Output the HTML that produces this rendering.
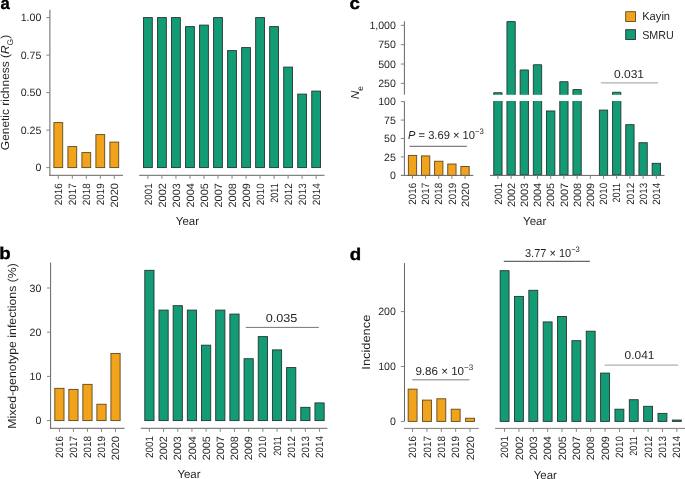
<!DOCTYPE html>
<html><head><meta charset="utf-8">
<style>
html,body{margin:0;padding:0;background:#fff;}
body{width:685px;height:479px;overflow:hidden;}
svg{display:block;font-family:"Liberation Sans",sans-serif;will-change:transform;text-rendering:geometricPrecision;}
</style></head>
<body>
<svg width="685" height="479" viewBox="0 0 685 479">
<rect x="0" y="0" width="685" height="479" fill="#fff"/>
<rect x="53.90" y="122.60" width="8.80" height="45.00" fill="#f2a31c" stroke="#5e4820" stroke-width="0.9"/>
<rect x="67.90" y="146.60" width="8.80" height="21.00" fill="#f2a31c" stroke="#5e4820" stroke-width="0.9"/>
<rect x="81.90" y="152.60" width="8.80" height="15.00" fill="#f2a31c" stroke="#5e4820" stroke-width="0.9"/>
<rect x="95.90" y="134.60" width="8.80" height="33.00" fill="#f2a31c" stroke="#5e4820" stroke-width="0.9"/>
<rect x="109.90" y="142.10" width="8.80" height="25.50" fill="#f2a31c" stroke="#5e4820" stroke-width="0.9"/>
<rect x="143.50" y="17.60" width="8.80" height="150.00" fill="#139b76" stroke="#25352f" stroke-width="0.9"/>
<rect x="157.52" y="17.60" width="8.80" height="150.00" fill="#139b76" stroke="#25352f" stroke-width="0.9"/>
<rect x="171.54" y="17.60" width="8.80" height="150.00" fill="#139b76" stroke="#25352f" stroke-width="0.9"/>
<rect x="185.56" y="26.60" width="8.80" height="141.00" fill="#139b76" stroke="#25352f" stroke-width="0.9"/>
<rect x="199.58" y="25.10" width="8.80" height="142.50" fill="#139b76" stroke="#25352f" stroke-width="0.9"/>
<rect x="213.60" y="17.60" width="8.80" height="150.00" fill="#139b76" stroke="#25352f" stroke-width="0.9"/>
<rect x="227.62" y="50.60" width="8.80" height="117.00" fill="#139b76" stroke="#25352f" stroke-width="0.9"/>
<rect x="241.64" y="47.60" width="8.80" height="120.00" fill="#139b76" stroke="#25352f" stroke-width="0.9"/>
<rect x="255.66" y="17.60" width="8.80" height="150.00" fill="#139b76" stroke="#25352f" stroke-width="0.9"/>
<rect x="269.68" y="26.60" width="8.80" height="141.00" fill="#139b76" stroke="#25352f" stroke-width="0.9"/>
<rect x="283.70" y="67.10" width="8.80" height="100.50" fill="#139b76" stroke="#25352f" stroke-width="0.9"/>
<rect x="297.72" y="94.10" width="8.80" height="73.50" fill="#139b76" stroke="#25352f" stroke-width="0.9"/>
<rect x="311.74" y="91.10" width="8.80" height="76.50" fill="#139b76" stroke="#25352f" stroke-width="0.9"/>
<line x1="49.90" y1="9.75" x2="49.90" y2="175.80" stroke="#656565" stroke-width="1.0"/>
<line x1="49.40" y1="175.30" x2="123.00" y2="175.30" stroke="#656565" stroke-width="1.0"/>
<line x1="139.20" y1="175.30" x2="324.50" y2="175.30" stroke="#656565" stroke-width="1.0"/>
<line x1="46.30" y1="167.60" x2="49.90" y2="167.60" stroke="#858585" stroke-width="1.0"/>
<text x="41.30" y="171.30" font-size="10.6" text-anchor="end" fill="#231f20" >0</text>
<line x1="46.30" y1="130.10" x2="49.90" y2="130.10" stroke="#858585" stroke-width="1.0"/>
<text x="41.30" y="133.80" font-size="10.6" text-anchor="end" fill="#231f20" >0.25</text>
<line x1="46.30" y1="92.60" x2="49.90" y2="92.60" stroke="#858585" stroke-width="1.0"/>
<text x="41.30" y="96.30" font-size="10.6" text-anchor="end" fill="#231f20" >0.50</text>
<line x1="46.30" y1="55.10" x2="49.90" y2="55.10" stroke="#858585" stroke-width="1.0"/>
<text x="41.30" y="58.80" font-size="10.6" text-anchor="end" fill="#231f20" >0.75</text>
<line x1="46.30" y1="17.60" x2="49.90" y2="17.60" stroke="#858585" stroke-width="1.0"/>
<text x="41.30" y="21.30" font-size="10.6" text-anchor="end" fill="#231f20" >1.00</text>
<line x1="58.30" y1="175.30" x2="58.30" y2="178.80" stroke="#858585" stroke-width="1.0"/>
<line x1="72.30" y1="175.30" x2="72.30" y2="178.80" stroke="#858585" stroke-width="1.0"/>
<line x1="86.30" y1="175.30" x2="86.30" y2="178.80" stroke="#858585" stroke-width="1.0"/>
<line x1="100.30" y1="175.30" x2="100.30" y2="178.80" stroke="#858585" stroke-width="1.0"/>
<line x1="114.30" y1="175.30" x2="114.30" y2="178.80" stroke="#858585" stroke-width="1.0"/>
<line x1="147.90" y1="175.30" x2="147.90" y2="178.80" stroke="#858585" stroke-width="1.0"/>
<line x1="161.92" y1="175.30" x2="161.92" y2="178.80" stroke="#858585" stroke-width="1.0"/>
<line x1="175.94" y1="175.30" x2="175.94" y2="178.80" stroke="#858585" stroke-width="1.0"/>
<line x1="189.96" y1="175.30" x2="189.96" y2="178.80" stroke="#858585" stroke-width="1.0"/>
<line x1="203.98" y1="175.30" x2="203.98" y2="178.80" stroke="#858585" stroke-width="1.0"/>
<line x1="218.00" y1="175.30" x2="218.00" y2="178.80" stroke="#858585" stroke-width="1.0"/>
<line x1="232.02" y1="175.30" x2="232.02" y2="178.80" stroke="#858585" stroke-width="1.0"/>
<line x1="246.04" y1="175.30" x2="246.04" y2="178.80" stroke="#858585" stroke-width="1.0"/>
<line x1="260.06" y1="175.30" x2="260.06" y2="178.80" stroke="#858585" stroke-width="1.0"/>
<line x1="274.08" y1="175.30" x2="274.08" y2="178.80" stroke="#858585" stroke-width="1.0"/>
<line x1="288.10" y1="175.30" x2="288.10" y2="178.80" stroke="#858585" stroke-width="1.0"/>
<line x1="302.12" y1="175.30" x2="302.12" y2="178.80" stroke="#858585" stroke-width="1.0"/>
<line x1="316.14" y1="175.30" x2="316.14" y2="178.80" stroke="#858585" stroke-width="1.0"/>
<text transform="translate(61.95,183.25) rotate(-90)" x="0" y="0" font-size="10.6" text-anchor="end" fill="#231f20" textLength="21.90" lengthAdjust="spacingAndGlyphs">2016</text>
<text transform="translate(75.95,183.25) rotate(-90)" x="0" y="0" font-size="10.6" text-anchor="end" fill="#231f20" textLength="21.90" lengthAdjust="spacingAndGlyphs">2017</text>
<text transform="translate(89.95,183.25) rotate(-90)" x="0" y="0" font-size="10.6" text-anchor="end" fill="#231f20" textLength="21.90" lengthAdjust="spacingAndGlyphs">2018</text>
<text transform="translate(103.95,183.25) rotate(-90)" x="0" y="0" font-size="10.6" text-anchor="end" fill="#231f20" textLength="21.90" lengthAdjust="spacingAndGlyphs">2019</text>
<text transform="translate(117.95,183.25) rotate(-90)" x="0" y="0" font-size="10.6" text-anchor="end" fill="#231f20" textLength="24.20" lengthAdjust="spacingAndGlyphs">2020</text>
<text transform="translate(151.55,183.25) rotate(-90)" x="0" y="0" font-size="10.6" text-anchor="end" fill="#231f20" textLength="21.90" lengthAdjust="spacingAndGlyphs">2001</text>
<text transform="translate(165.57,183.25) rotate(-90)" x="0" y="0" font-size="10.6" text-anchor="end" fill="#231f20" textLength="24.20" lengthAdjust="spacingAndGlyphs">2002</text>
<text transform="translate(179.59,183.25) rotate(-90)" x="0" y="0" font-size="10.6" text-anchor="end" fill="#231f20" textLength="24.20" lengthAdjust="spacingAndGlyphs">2003</text>
<text transform="translate(193.61,183.25) rotate(-90)" x="0" y="0" font-size="10.6" text-anchor="end" fill="#231f20" textLength="24.20" lengthAdjust="spacingAndGlyphs">2004</text>
<text transform="translate(207.63,183.25) rotate(-90)" x="0" y="0" font-size="10.6" text-anchor="end" fill="#231f20" textLength="24.20" lengthAdjust="spacingAndGlyphs">2005</text>
<text transform="translate(221.65,183.25) rotate(-90)" x="0" y="0" font-size="10.6" text-anchor="end" fill="#231f20" textLength="24.20" lengthAdjust="spacingAndGlyphs">2007</text>
<text transform="translate(235.67,183.25) rotate(-90)" x="0" y="0" font-size="10.6" text-anchor="end" fill="#231f20" textLength="24.20" lengthAdjust="spacingAndGlyphs">2008</text>
<text transform="translate(249.69,183.25) rotate(-90)" x="0" y="0" font-size="10.6" text-anchor="end" fill="#231f20" textLength="24.20" lengthAdjust="spacingAndGlyphs">2009</text>
<text transform="translate(263.71,183.25) rotate(-90)" x="0" y="0" font-size="10.6" text-anchor="end" fill="#231f20" textLength="21.90" lengthAdjust="spacingAndGlyphs">2010</text>
<text transform="translate(277.73,183.25) rotate(-90)" x="0" y="0" font-size="10.6" text-anchor="end" fill="#231f20" textLength="19.60" lengthAdjust="spacingAndGlyphs">2011</text>
<text transform="translate(291.75,183.25) rotate(-90)" x="0" y="0" font-size="10.6" text-anchor="end" fill="#231f20" textLength="21.90" lengthAdjust="spacingAndGlyphs">2012</text>
<text transform="translate(305.77,183.25) rotate(-90)" x="0" y="0" font-size="10.6" text-anchor="end" fill="#231f20" textLength="21.90" lengthAdjust="spacingAndGlyphs">2013</text>
<text transform="translate(319.79,183.25) rotate(-90)" x="0" y="0" font-size="10.6" text-anchor="end" fill="#231f20" textLength="21.90" lengthAdjust="spacingAndGlyphs">2014</text>
<text x="187.40" y="225.00" font-size="11.6" text-anchor="middle" fill="#231f20" textLength="23.20" lengthAdjust="spacingAndGlyphs" >Year</text>
<text transform="translate(8.6,92.5) rotate(-90)" x="0" y="0" font-size="11.6" text-anchor="middle" fill="#231f20" textLength="115.3" lengthAdjust="spacingAndGlyphs">Genetic richness (<tspan font-style="italic">R</tspan><tspan font-size="8.2" dy="4.3">G</tspan><tspan dy="-4.3">)</tspan></text>
<text transform="translate(0.6,9.0) scale(0.98,1)" x="0" y="0" font-size="17" font-weight="bold" fill="#000" stroke="#000" stroke-width="0.35">a</text>
<rect x="54.80" y="388.33" width="9.20" height="32.27" fill="#f2a31c" stroke="#5e4820" stroke-width="0.9"/>
<rect x="68.83" y="389.39" width="9.20" height="31.21" fill="#f2a31c" stroke="#5e4820" stroke-width="0.9"/>
<rect x="82.86" y="384.36" width="9.20" height="36.24" fill="#f2a31c" stroke="#5e4820" stroke-width="0.9"/>
<rect x="96.89" y="404.25" width="9.20" height="16.35" fill="#f2a31c" stroke="#5e4820" stroke-width="0.9"/>
<rect x="110.92" y="353.42" width="9.20" height="67.18" fill="#f2a31c" stroke="#5e4820" stroke-width="0.9"/>
<rect x="144.80" y="270.32" width="9.20" height="150.28" fill="#139b76" stroke="#25352f" stroke-width="0.9"/>
<rect x="158.98" y="310.10" width="9.20" height="110.50" fill="#139b76" stroke="#25352f" stroke-width="0.9"/>
<rect x="173.16" y="305.68" width="9.20" height="114.92" fill="#139b76" stroke="#25352f" stroke-width="0.9"/>
<rect x="187.34" y="310.10" width="9.20" height="110.50" fill="#139b76" stroke="#25352f" stroke-width="0.9"/>
<rect x="201.52" y="345.19" width="9.20" height="75.41" fill="#139b76" stroke="#25352f" stroke-width="0.9"/>
<rect x="215.70" y="310.10" width="9.20" height="110.50" fill="#139b76" stroke="#25352f" stroke-width="0.9"/>
<rect x="229.88" y="314.08" width="9.20" height="106.52" fill="#139b76" stroke="#25352f" stroke-width="0.9"/>
<rect x="244.06" y="358.72" width="9.20" height="61.88" fill="#139b76" stroke="#25352f" stroke-width="0.9"/>
<rect x="258.24" y="336.62" width="9.20" height="83.98" fill="#139b76" stroke="#25352f" stroke-width="0.9"/>
<rect x="272.42" y="349.88" width="9.20" height="70.72" fill="#139b76" stroke="#25352f" stroke-width="0.9"/>
<rect x="286.60" y="367.56" width="9.20" height="53.04" fill="#139b76" stroke="#25352f" stroke-width="0.9"/>
<rect x="300.78" y="407.34" width="9.20" height="13.26" fill="#139b76" stroke="#25352f" stroke-width="0.9"/>
<rect x="314.96" y="402.92" width="9.20" height="17.68" fill="#139b76" stroke="#25352f" stroke-width="0.9"/>
<line x1="50.60" y1="262.50" x2="50.60" y2="428.80" stroke="#656565" stroke-width="1.0"/>
<line x1="50.10" y1="428.30" x2="124.50" y2="428.30" stroke="#656565" stroke-width="1.0"/>
<line x1="140.70" y1="428.30" x2="327.40" y2="428.30" stroke="#656565" stroke-width="1.0"/>
<line x1="47.00" y1="420.60" x2="50.60" y2="420.60" stroke="#858585" stroke-width="1.0"/>
<text x="41.30" y="424.30" font-size="10.6" text-anchor="end" fill="#231f20" >0</text>
<line x1="47.00" y1="376.40" x2="50.60" y2="376.40" stroke="#858585" stroke-width="1.0"/>
<text x="41.30" y="380.10" font-size="10.6" text-anchor="end" fill="#231f20" >10</text>
<line x1="47.00" y1="332.20" x2="50.60" y2="332.20" stroke="#858585" stroke-width="1.0"/>
<text x="41.30" y="335.90" font-size="10.6" text-anchor="end" fill="#231f20" >20</text>
<line x1="47.00" y1="288.00" x2="50.60" y2="288.00" stroke="#858585" stroke-width="1.0"/>
<text x="41.30" y="291.70" font-size="10.6" text-anchor="end" fill="#231f20" >30</text>
<line x1="59.40" y1="428.30" x2="59.40" y2="431.80" stroke="#858585" stroke-width="1.0"/>
<line x1="73.43" y1="428.30" x2="73.43" y2="431.80" stroke="#858585" stroke-width="1.0"/>
<line x1="87.46" y1="428.30" x2="87.46" y2="431.80" stroke="#858585" stroke-width="1.0"/>
<line x1="101.49" y1="428.30" x2="101.49" y2="431.80" stroke="#858585" stroke-width="1.0"/>
<line x1="115.52" y1="428.30" x2="115.52" y2="431.80" stroke="#858585" stroke-width="1.0"/>
<line x1="149.40" y1="428.30" x2="149.40" y2="431.80" stroke="#858585" stroke-width="1.0"/>
<line x1="163.58" y1="428.30" x2="163.58" y2="431.80" stroke="#858585" stroke-width="1.0"/>
<line x1="177.76" y1="428.30" x2="177.76" y2="431.80" stroke="#858585" stroke-width="1.0"/>
<line x1="191.94" y1="428.30" x2="191.94" y2="431.80" stroke="#858585" stroke-width="1.0"/>
<line x1="206.12" y1="428.30" x2="206.12" y2="431.80" stroke="#858585" stroke-width="1.0"/>
<line x1="220.30" y1="428.30" x2="220.30" y2="431.80" stroke="#858585" stroke-width="1.0"/>
<line x1="234.48" y1="428.30" x2="234.48" y2="431.80" stroke="#858585" stroke-width="1.0"/>
<line x1="248.66" y1="428.30" x2="248.66" y2="431.80" stroke="#858585" stroke-width="1.0"/>
<line x1="262.84" y1="428.30" x2="262.84" y2="431.80" stroke="#858585" stroke-width="1.0"/>
<line x1="277.02" y1="428.30" x2="277.02" y2="431.80" stroke="#858585" stroke-width="1.0"/>
<line x1="291.20" y1="428.30" x2="291.20" y2="431.80" stroke="#858585" stroke-width="1.0"/>
<line x1="305.38" y1="428.30" x2="305.38" y2="431.80" stroke="#858585" stroke-width="1.0"/>
<line x1="319.56" y1="428.30" x2="319.56" y2="431.80" stroke="#858585" stroke-width="1.0"/>
<text transform="translate(63.05,436.10) rotate(-90)" x="0" y="0" font-size="10.6" text-anchor="end" fill="#231f20" textLength="21.90" lengthAdjust="spacingAndGlyphs">2016</text>
<text transform="translate(77.08,436.10) rotate(-90)" x="0" y="0" font-size="10.6" text-anchor="end" fill="#231f20" textLength="21.90" lengthAdjust="spacingAndGlyphs">2017</text>
<text transform="translate(91.11,436.10) rotate(-90)" x="0" y="0" font-size="10.6" text-anchor="end" fill="#231f20" textLength="21.90" lengthAdjust="spacingAndGlyphs">2018</text>
<text transform="translate(105.14,436.10) rotate(-90)" x="0" y="0" font-size="10.6" text-anchor="end" fill="#231f20" textLength="21.90" lengthAdjust="spacingAndGlyphs">2019</text>
<text transform="translate(119.17,436.10) rotate(-90)" x="0" y="0" font-size="10.6" text-anchor="end" fill="#231f20" textLength="24.20" lengthAdjust="spacingAndGlyphs">2020</text>
<text transform="translate(153.05,436.10) rotate(-90)" x="0" y="0" font-size="10.6" text-anchor="end" fill="#231f20" textLength="21.90" lengthAdjust="spacingAndGlyphs">2001</text>
<text transform="translate(167.23,436.10) rotate(-90)" x="0" y="0" font-size="10.6" text-anchor="end" fill="#231f20" textLength="24.20" lengthAdjust="spacingAndGlyphs">2002</text>
<text transform="translate(181.41,436.10) rotate(-90)" x="0" y="0" font-size="10.6" text-anchor="end" fill="#231f20" textLength="24.20" lengthAdjust="spacingAndGlyphs">2003</text>
<text transform="translate(195.59,436.10) rotate(-90)" x="0" y="0" font-size="10.6" text-anchor="end" fill="#231f20" textLength="24.20" lengthAdjust="spacingAndGlyphs">2004</text>
<text transform="translate(209.77,436.10) rotate(-90)" x="0" y="0" font-size="10.6" text-anchor="end" fill="#231f20" textLength="24.20" lengthAdjust="spacingAndGlyphs">2005</text>
<text transform="translate(223.95,436.10) rotate(-90)" x="0" y="0" font-size="10.6" text-anchor="end" fill="#231f20" textLength="24.20" lengthAdjust="spacingAndGlyphs">2007</text>
<text transform="translate(238.13,436.10) rotate(-90)" x="0" y="0" font-size="10.6" text-anchor="end" fill="#231f20" textLength="24.20" lengthAdjust="spacingAndGlyphs">2008</text>
<text transform="translate(252.31,436.10) rotate(-90)" x="0" y="0" font-size="10.6" text-anchor="end" fill="#231f20" textLength="24.20" lengthAdjust="spacingAndGlyphs">2009</text>
<text transform="translate(266.49,436.10) rotate(-90)" x="0" y="0" font-size="10.6" text-anchor="end" fill="#231f20" textLength="21.90" lengthAdjust="spacingAndGlyphs">2010</text>
<text transform="translate(280.67,436.10) rotate(-90)" x="0" y="0" font-size="10.6" text-anchor="end" fill="#231f20" textLength="19.60" lengthAdjust="spacingAndGlyphs">2011</text>
<text transform="translate(294.85,436.10) rotate(-90)" x="0" y="0" font-size="10.6" text-anchor="end" fill="#231f20" textLength="21.90" lengthAdjust="spacingAndGlyphs">2012</text>
<text transform="translate(309.03,436.10) rotate(-90)" x="0" y="0" font-size="10.6" text-anchor="end" fill="#231f20" textLength="21.90" lengthAdjust="spacingAndGlyphs">2013</text>
<text transform="translate(323.21,436.10) rotate(-90)" x="0" y="0" font-size="10.6" text-anchor="end" fill="#231f20" textLength="21.90" lengthAdjust="spacingAndGlyphs">2014</text>
<text x="189.00" y="478.40" font-size="11.6" text-anchor="middle" fill="#231f20" textLength="23.20" lengthAdjust="spacingAndGlyphs" >Year</text>
<text transform="translate(15.9,345.9) rotate(-90)" x="0" y="0" font-size="11.6" text-anchor="middle" fill="#231f20" textLength="165.6" lengthAdjust="spacingAndGlyphs">Mixed-genotype infections (%)</text>
<line x1="245.80" y1="327.40" x2="318.90" y2="327.40" stroke="#767676" stroke-width="1.0"/>
<text x="281.50" y="322.20" font-size="11.6" text-anchor="middle" fill="#231f20" textLength="31.70" lengthAdjust="spacingAndGlyphs" >0.035</text>
<text transform="translate(-0.8,258.6) scale(1.1,1)" x="0" y="0" font-size="17" font-weight="bold" fill="#000" stroke="#000" stroke-width="0.35">b</text>
<rect x="408.35" y="155.40" width="8.30" height="20.00" fill="#f2a31c" stroke="#5e4820" stroke-width="0.9"/>
<rect x="421.48" y="155.92" width="8.30" height="19.48" fill="#f2a31c" stroke="#5e4820" stroke-width="0.9"/>
<rect x="434.61" y="161.23" width="8.30" height="14.17" fill="#f2a31c" stroke="#5e4820" stroke-width="0.9"/>
<rect x="447.74" y="164.03" width="8.30" height="11.37" fill="#f2a31c" stroke="#5e4820" stroke-width="0.9"/>
<rect x="460.87" y="166.47" width="8.30" height="8.93" fill="#f2a31c" stroke="#5e4820" stroke-width="0.9"/>
<rect x="493.75" y="101.0" width="8.30" height="73.95" fill="#139b76"/>
<path d="M493.75,101.0 V174.95 H502.05 V101.0" fill="none" stroke="#25352f" stroke-width="0.9"/>
<rect x="493.75" y="92.71" width="8.30" height="2.09" fill="#139b76"/>
<path d="M493.75,94.8 V92.71 H502.05 V94.8" fill="none" stroke="#25352f" stroke-width="0.9"/>
<rect x="506.95" y="101.0" width="8.30" height="73.95" fill="#139b76"/>
<path d="M506.95,101.0 V174.95 H515.25 V101.0" fill="none" stroke="#25352f" stroke-width="0.9"/>
<rect x="506.95" y="21.57" width="8.30" height="73.23" fill="#139b76"/>
<path d="M506.95,94.8 V21.57 H515.25 V94.8" fill="none" stroke="#25352f" stroke-width="0.9"/>
<rect x="520.15" y="101.0" width="8.30" height="73.95" fill="#139b76"/>
<path d="M520.15,101.0 V174.95 H528.45 V101.0" fill="none" stroke="#25352f" stroke-width="0.9"/>
<rect x="520.15" y="69.98" width="8.30" height="24.82" fill="#139b76"/>
<path d="M520.15,94.8 V69.98 H528.45 V94.8" fill="none" stroke="#25352f" stroke-width="0.9"/>
<rect x="533.35" y="101.0" width="8.30" height="73.95" fill="#139b76"/>
<path d="M533.35,101.0 V174.95 H541.65 V101.0" fill="none" stroke="#25352f" stroke-width="0.9"/>
<rect x="533.35" y="64.72" width="8.30" height="30.08" fill="#139b76"/>
<path d="M533.35,94.8 V64.72 H541.65 V94.8" fill="none" stroke="#25352f" stroke-width="0.9"/>
<rect x="546.55" y="110.97" width="8.30" height="64.43" fill="#139b76" stroke="#25352f" stroke-width="0.9"/>
<rect x="559.75" y="101.0" width="8.30" height="73.95" fill="#139b76"/>
<path d="M559.75,101.0 V174.95 H568.05 V101.0" fill="none" stroke="#25352f" stroke-width="0.9"/>
<rect x="559.75" y="81.73" width="8.30" height="13.07" fill="#139b76"/>
<path d="M559.75,94.8 V81.73 H568.05 V94.8" fill="none" stroke="#25352f" stroke-width="0.9"/>
<rect x="572.95" y="101.0" width="8.30" height="73.95" fill="#139b76"/>
<path d="M572.95,101.0 V174.95 H581.25 V101.0" fill="none" stroke="#25352f" stroke-width="0.9"/>
<rect x="572.95" y="89.54" width="8.30" height="5.26" fill="#139b76"/>
<path d="M572.95,94.8 V89.54 H581.25 V94.8" fill="none" stroke="#25352f" stroke-width="0.9"/>
<rect x="599.35" y="110.09" width="8.30" height="65.31" fill="#139b76" stroke="#25352f" stroke-width="0.9"/>
<rect x="612.55" y="101.0" width="8.30" height="73.95" fill="#139b76"/>
<path d="M612.55,101.0 V174.95 H620.85 V101.0" fill="none" stroke="#25352f" stroke-width="0.9"/>
<rect x="612.55" y="92.25" width="8.30" height="2.55" fill="#139b76"/>
<path d="M612.55,94.8 V92.25 H620.85 V94.8" fill="none" stroke="#25352f" stroke-width="0.9"/>
<rect x="625.75" y="124.70" width="8.30" height="50.70" fill="#139b76" stroke="#25352f" stroke-width="0.9"/>
<rect x="638.95" y="142.71" width="8.30" height="32.69" fill="#139b76" stroke="#25352f" stroke-width="0.9"/>
<rect x="652.15" y="163.30" width="8.30" height="12.10" fill="#139b76" stroke="#25352f" stroke-width="0.9"/>
<line x1="404.40" y1="21.25" x2="404.40" y2="94.70" stroke="#656565" stroke-width="1.0"/>
<line x1="404.40" y1="101.30" x2="404.40" y2="175.40" stroke="#656565" stroke-width="1.0"/>
<line x1="401.00" y1="175.40" x2="473.30" y2="175.40" stroke="#656565" stroke-width="1.0"/>
<line x1="490.00" y1="175.40" x2="664.50" y2="175.40" stroke="#656565" stroke-width="1.0"/>
<line x1="400.80" y1="175.40" x2="404.40" y2="175.40" stroke="#858585" stroke-width="1.0"/>
<text x="395.90" y="179.10" font-size="10.6" text-anchor="end" fill="#231f20" >0</text>
<line x1="400.80" y1="156.95" x2="404.40" y2="156.95" stroke="#858585" stroke-width="1.0"/>
<text x="395.90" y="160.65" font-size="10.6" text-anchor="end" fill="#231f20" >25</text>
<line x1="400.80" y1="138.50" x2="404.40" y2="138.50" stroke="#858585" stroke-width="1.0"/>
<text x="395.90" y="142.20" font-size="10.6" text-anchor="end" fill="#231f20" >50</text>
<line x1="400.80" y1="120.05" x2="404.40" y2="120.05" stroke="#858585" stroke-width="1.0"/>
<text x="395.90" y="123.75" font-size="10.6" text-anchor="end" fill="#231f20" >75</text>
<line x1="400.80" y1="101.60" x2="404.40" y2="101.60" stroke="#858585" stroke-width="1.0"/>
<text x="395.90" y="105.30" font-size="10.6" text-anchor="end" fill="#231f20" >100</text>
<line x1="400.80" y1="83.37" x2="404.40" y2="83.37" stroke="#858585" stroke-width="1.0"/>
<text x="395.90" y="87.07" font-size="10.6" text-anchor="end" fill="#231f20" >250</text>
<line x1="400.80" y1="64.03" x2="404.40" y2="64.03" stroke="#858585" stroke-width="1.0"/>
<text x="395.90" y="67.73" font-size="10.6" text-anchor="end" fill="#231f20" >500</text>
<line x1="400.80" y1="44.70" x2="404.40" y2="44.70" stroke="#858585" stroke-width="1.0"/>
<text x="395.90" y="48.40" font-size="10.6" text-anchor="end" fill="#231f20" >750</text>
<line x1="400.80" y1="25.37" x2="404.40" y2="25.37" stroke="#858585" stroke-width="1.0"/>
<text x="395.90" y="29.07" font-size="10.6" text-anchor="end" fill="#231f20" >1,000</text>
<line x1="412.50" y1="175.40" x2="412.50" y2="178.90" stroke="#858585" stroke-width="1.0"/>
<line x1="425.63" y1="175.40" x2="425.63" y2="178.90" stroke="#858585" stroke-width="1.0"/>
<line x1="438.76" y1="175.40" x2="438.76" y2="178.90" stroke="#858585" stroke-width="1.0"/>
<line x1="451.89" y1="175.40" x2="451.89" y2="178.90" stroke="#858585" stroke-width="1.0"/>
<line x1="465.02" y1="175.40" x2="465.02" y2="178.90" stroke="#858585" stroke-width="1.0"/>
<line x1="497.90" y1="175.40" x2="497.90" y2="178.90" stroke="#858585" stroke-width="1.0"/>
<line x1="511.10" y1="175.40" x2="511.10" y2="178.90" stroke="#858585" stroke-width="1.0"/>
<line x1="524.30" y1="175.40" x2="524.30" y2="178.90" stroke="#858585" stroke-width="1.0"/>
<line x1="537.50" y1="175.40" x2="537.50" y2="178.90" stroke="#858585" stroke-width="1.0"/>
<line x1="550.70" y1="175.40" x2="550.70" y2="178.90" stroke="#858585" stroke-width="1.0"/>
<line x1="563.90" y1="175.40" x2="563.90" y2="178.90" stroke="#858585" stroke-width="1.0"/>
<line x1="577.10" y1="175.40" x2="577.10" y2="178.90" stroke="#858585" stroke-width="1.0"/>
<line x1="590.30" y1="175.40" x2="590.30" y2="178.90" stroke="#858585" stroke-width="1.0"/>
<line x1="603.50" y1="175.40" x2="603.50" y2="178.90" stroke="#858585" stroke-width="1.0"/>
<line x1="616.70" y1="175.40" x2="616.70" y2="178.90" stroke="#858585" stroke-width="1.0"/>
<line x1="629.90" y1="175.40" x2="629.90" y2="178.90" stroke="#858585" stroke-width="1.0"/>
<line x1="643.10" y1="175.40" x2="643.10" y2="178.90" stroke="#858585" stroke-width="1.0"/>
<line x1="656.30" y1="175.40" x2="656.30" y2="178.90" stroke="#858585" stroke-width="1.0"/>
<text transform="translate(416.15,182.90) rotate(-90)" x="0" y="0" font-size="10.6" text-anchor="end" fill="#231f20" textLength="21.90" lengthAdjust="spacingAndGlyphs">2016</text>
<text transform="translate(429.28,182.90) rotate(-90)" x="0" y="0" font-size="10.6" text-anchor="end" fill="#231f20" textLength="21.90" lengthAdjust="spacingAndGlyphs">2017</text>
<text transform="translate(442.41,182.90) rotate(-90)" x="0" y="0" font-size="10.6" text-anchor="end" fill="#231f20" textLength="21.90" lengthAdjust="spacingAndGlyphs">2018</text>
<text transform="translate(455.54,182.90) rotate(-90)" x="0" y="0" font-size="10.6" text-anchor="end" fill="#231f20" textLength="21.90" lengthAdjust="spacingAndGlyphs">2019</text>
<text transform="translate(468.67,182.90) rotate(-90)" x="0" y="0" font-size="10.6" text-anchor="end" fill="#231f20" textLength="24.20" lengthAdjust="spacingAndGlyphs">2020</text>
<text transform="translate(501.55,182.90) rotate(-90)" x="0" y="0" font-size="10.6" text-anchor="end" fill="#231f20" textLength="21.90" lengthAdjust="spacingAndGlyphs">2001</text>
<text transform="translate(514.75,182.90) rotate(-90)" x="0" y="0" font-size="10.6" text-anchor="end" fill="#231f20" textLength="24.20" lengthAdjust="spacingAndGlyphs">2002</text>
<text transform="translate(527.95,182.90) rotate(-90)" x="0" y="0" font-size="10.6" text-anchor="end" fill="#231f20" textLength="24.20" lengthAdjust="spacingAndGlyphs">2003</text>
<text transform="translate(541.15,182.90) rotate(-90)" x="0" y="0" font-size="10.6" text-anchor="end" fill="#231f20" textLength="24.20" lengthAdjust="spacingAndGlyphs">2004</text>
<text transform="translate(554.35,182.90) rotate(-90)" x="0" y="0" font-size="10.6" text-anchor="end" fill="#231f20" textLength="24.20" lengthAdjust="spacingAndGlyphs">2005</text>
<text transform="translate(567.55,182.90) rotate(-90)" x="0" y="0" font-size="10.6" text-anchor="end" fill="#231f20" textLength="24.20" lengthAdjust="spacingAndGlyphs">2007</text>
<text transform="translate(580.75,182.90) rotate(-90)" x="0" y="0" font-size="10.6" text-anchor="end" fill="#231f20" textLength="24.20" lengthAdjust="spacingAndGlyphs">2008</text>
<text transform="translate(593.95,182.90) rotate(-90)" x="0" y="0" font-size="10.6" text-anchor="end" fill="#231f20" textLength="24.20" lengthAdjust="spacingAndGlyphs">2009</text>
<text transform="translate(607.15,182.90) rotate(-90)" x="0" y="0" font-size="10.6" text-anchor="end" fill="#231f20" textLength="21.90" lengthAdjust="spacingAndGlyphs">2010</text>
<text transform="translate(620.35,182.90) rotate(-90)" x="0" y="0" font-size="10.6" text-anchor="end" fill="#231f20" textLength="19.60" lengthAdjust="spacingAndGlyphs">2011</text>
<text transform="translate(633.55,182.90) rotate(-90)" x="0" y="0" font-size="10.6" text-anchor="end" fill="#231f20" textLength="21.90" lengthAdjust="spacingAndGlyphs">2012</text>
<text transform="translate(646.75,182.90) rotate(-90)" x="0" y="0" font-size="10.6" text-anchor="end" fill="#231f20" textLength="21.90" lengthAdjust="spacingAndGlyphs">2013</text>
<text transform="translate(659.95,182.90) rotate(-90)" x="0" y="0" font-size="10.6" text-anchor="end" fill="#231f20" textLength="21.90" lengthAdjust="spacingAndGlyphs">2014</text>
<text x="534.70" y="225.10" font-size="11.6" text-anchor="middle" fill="#231f20" textLength="23.20" lengthAdjust="spacingAndGlyphs" >Year</text>
<text transform="translate(358.9,99.1) rotate(-90)" x="0" y="0" font-size="11.6" fill="#231f20"><tspan font-style="italic">N</tspan><tspan font-size="8.5" dy="4.2">e</tspan></text>
<line x1="409.50" y1="146.40" x2="466.90" y2="146.40" stroke="#808080" stroke-width="1.1"/>
<text x="408.0" y="139.0" font-size="11.6" fill="#231f20" textLength="75.8" lengthAdjust="spacingAndGlyphs"><tspan font-style="italic">P</tspan> = 3.69 × 10<tspan font-size="8" dy="-4.6">−3</tspan></text>
<line x1="600.90" y1="82.90" x2="658.00" y2="82.90" stroke="#b0b0b0" stroke-width="1.4"/>
<text x="629.00" y="77.50" font-size="11.6" text-anchor="middle" fill="#231f20" textLength="30.00" lengthAdjust="spacingAndGlyphs" >0.031</text>
<rect x="625.7" y="11.7" width="9.8" height="9.8" fill="#f2a31c" stroke="#5e4820" stroke-width="0.9"/>
<rect x="625.7" y="29.7" width="9.8" height="9.8" fill="#139b76" stroke="#25352f" stroke-width="0.9"/>
<text x="642.20" y="19.85" font-size="11.6" text-anchor="start" fill="#231f20" textLength="27.90" lengthAdjust="spacingAndGlyphs" >Kayin</text>
<text x="642.20" y="38.50" font-size="11.6" text-anchor="start" fill="#231f20" textLength="31.60" lengthAdjust="spacingAndGlyphs" >SMRU</text>
<text transform="translate(349.5,9.0) scale(1.1,1)" x="0" y="0" font-size="17" font-weight="bold" fill="#000" stroke="#000" stroke-width="0.35">c</text>
<rect x="408.15" y="389.12" width="8.90" height="32.28" fill="#f2a31c" stroke="#5e4820" stroke-width="0.9"/>
<rect x="422.51" y="400.10" width="8.90" height="21.30" fill="#f2a31c" stroke="#5e4820" stroke-width="0.9"/>
<rect x="436.87" y="398.78" width="8.90" height="22.62" fill="#f2a31c" stroke="#5e4820" stroke-width="0.9"/>
<rect x="451.23" y="409.21" width="8.90" height="12.19" fill="#f2a31c" stroke="#5e4820" stroke-width="0.9"/>
<rect x="465.59" y="418.22" width="8.90" height="3.18" fill="#f2a31c" stroke="#5e4820" stroke-width="0.9"/>
<rect x="500.15" y="270.70" width="8.90" height="150.70" fill="#139b76" stroke="#25352f" stroke-width="0.9"/>
<rect x="514.50" y="296.39" width="8.90" height="125.01" fill="#139b76" stroke="#25352f" stroke-width="0.9"/>
<rect x="528.85" y="290.30" width="8.90" height="131.10" fill="#139b76" stroke="#25352f" stroke-width="0.9"/>
<rect x="543.20" y="321.92" width="8.90" height="99.48" fill="#139b76" stroke="#25352f" stroke-width="0.9"/>
<rect x="557.55" y="316.54" width="8.90" height="104.86" fill="#139b76" stroke="#25352f" stroke-width="0.9"/>
<rect x="571.90" y="340.70" width="8.90" height="80.70" fill="#139b76" stroke="#25352f" stroke-width="0.9"/>
<rect x="586.25" y="331.20" width="8.90" height="90.20" fill="#139b76" stroke="#25352f" stroke-width="0.9"/>
<rect x="600.60" y="373.09" width="8.90" height="48.31" fill="#139b76" stroke="#25352f" stroke-width="0.9"/>
<rect x="614.95" y="409.21" width="8.90" height="12.19" fill="#139b76" stroke="#25352f" stroke-width="0.9"/>
<rect x="629.30" y="399.71" width="8.90" height="21.69" fill="#139b76" stroke="#25352f" stroke-width="0.9"/>
<rect x="643.65" y="406.30" width="8.90" height="15.10" fill="#139b76" stroke="#25352f" stroke-width="0.9"/>
<rect x="658.00" y="413.38" width="8.90" height="8.02" fill="#139b76" stroke="#25352f" stroke-width="0.9"/>
<rect x="672.35" y="420.03" width="8.90" height="1.37" fill="#139b76" stroke="#25352f" stroke-width="0.9"/>
<line x1="404.50" y1="263.10" x2="404.50" y2="421.40" stroke="#656565" stroke-width="1.0"/>
<line x1="404.00" y1="428.40" x2="478.80" y2="428.40" stroke="#7e7e7e" stroke-width="1.0"/>
<line x1="495.10" y1="428.40" x2="685.00" y2="428.40" stroke="#7e7e7e" stroke-width="1.0"/>
<line x1="400.90" y1="421.40" x2="404.50" y2="421.40" stroke="#858585" stroke-width="1.0"/>
<text x="395.90" y="425.10" font-size="10.6" text-anchor="end" fill="#231f20" >0</text>
<line x1="400.90" y1="366.50" x2="404.50" y2="366.50" stroke="#858585" stroke-width="1.0"/>
<text x="395.90" y="370.20" font-size="10.6" text-anchor="end" fill="#231f20" >100</text>
<line x1="400.90" y1="311.60" x2="404.50" y2="311.60" stroke="#858585" stroke-width="1.0"/>
<text x="395.90" y="315.30" font-size="10.6" text-anchor="end" fill="#231f20" >200</text>
<line x1="412.60" y1="428.40" x2="412.60" y2="431.90" stroke="#858585" stroke-width="1.0"/>
<line x1="426.96" y1="428.40" x2="426.96" y2="431.90" stroke="#858585" stroke-width="1.0"/>
<line x1="441.32" y1="428.40" x2="441.32" y2="431.90" stroke="#858585" stroke-width="1.0"/>
<line x1="455.68" y1="428.40" x2="455.68" y2="431.90" stroke="#858585" stroke-width="1.0"/>
<line x1="470.04" y1="428.40" x2="470.04" y2="431.90" stroke="#858585" stroke-width="1.0"/>
<line x1="504.60" y1="428.40" x2="504.60" y2="431.90" stroke="#858585" stroke-width="1.0"/>
<line x1="518.95" y1="428.40" x2="518.95" y2="431.90" stroke="#858585" stroke-width="1.0"/>
<line x1="533.30" y1="428.40" x2="533.30" y2="431.90" stroke="#858585" stroke-width="1.0"/>
<line x1="547.65" y1="428.40" x2="547.65" y2="431.90" stroke="#858585" stroke-width="1.0"/>
<line x1="562.00" y1="428.40" x2="562.00" y2="431.90" stroke="#858585" stroke-width="1.0"/>
<line x1="576.35" y1="428.40" x2="576.35" y2="431.90" stroke="#858585" stroke-width="1.0"/>
<line x1="590.70" y1="428.40" x2="590.70" y2="431.90" stroke="#858585" stroke-width="1.0"/>
<line x1="605.05" y1="428.40" x2="605.05" y2="431.90" stroke="#858585" stroke-width="1.0"/>
<line x1="619.40" y1="428.40" x2="619.40" y2="431.90" stroke="#858585" stroke-width="1.0"/>
<line x1="633.75" y1="428.40" x2="633.75" y2="431.90" stroke="#858585" stroke-width="1.0"/>
<line x1="648.10" y1="428.40" x2="648.10" y2="431.90" stroke="#858585" stroke-width="1.0"/>
<line x1="662.45" y1="428.40" x2="662.45" y2="431.90" stroke="#858585" stroke-width="1.0"/>
<line x1="676.80" y1="428.40" x2="676.80" y2="431.90" stroke="#858585" stroke-width="1.0"/>
<text transform="translate(416.25,436.10) rotate(-90)" x="0" y="0" font-size="10.6" text-anchor="end" fill="#231f20" textLength="21.90" lengthAdjust="spacingAndGlyphs">2016</text>
<text transform="translate(430.61,436.10) rotate(-90)" x="0" y="0" font-size="10.6" text-anchor="end" fill="#231f20" textLength="21.90" lengthAdjust="spacingAndGlyphs">2017</text>
<text transform="translate(444.97,436.10) rotate(-90)" x="0" y="0" font-size="10.6" text-anchor="end" fill="#231f20" textLength="21.90" lengthAdjust="spacingAndGlyphs">2018</text>
<text transform="translate(459.33,436.10) rotate(-90)" x="0" y="0" font-size="10.6" text-anchor="end" fill="#231f20" textLength="21.90" lengthAdjust="spacingAndGlyphs">2019</text>
<text transform="translate(473.69,436.10) rotate(-90)" x="0" y="0" font-size="10.6" text-anchor="end" fill="#231f20" textLength="24.20" lengthAdjust="spacingAndGlyphs">2020</text>
<text transform="translate(508.25,436.10) rotate(-90)" x="0" y="0" font-size="10.6" text-anchor="end" fill="#231f20" textLength="21.90" lengthAdjust="spacingAndGlyphs">2001</text>
<text transform="translate(522.60,436.10) rotate(-90)" x="0" y="0" font-size="10.6" text-anchor="end" fill="#231f20" textLength="24.20" lengthAdjust="spacingAndGlyphs">2002</text>
<text transform="translate(536.95,436.10) rotate(-90)" x="0" y="0" font-size="10.6" text-anchor="end" fill="#231f20" textLength="24.20" lengthAdjust="spacingAndGlyphs">2003</text>
<text transform="translate(551.30,436.10) rotate(-90)" x="0" y="0" font-size="10.6" text-anchor="end" fill="#231f20" textLength="24.20" lengthAdjust="spacingAndGlyphs">2004</text>
<text transform="translate(565.65,436.10) rotate(-90)" x="0" y="0" font-size="10.6" text-anchor="end" fill="#231f20" textLength="24.20" lengthAdjust="spacingAndGlyphs">2005</text>
<text transform="translate(580.00,436.10) rotate(-90)" x="0" y="0" font-size="10.6" text-anchor="end" fill="#231f20" textLength="24.20" lengthAdjust="spacingAndGlyphs">2007</text>
<text transform="translate(594.35,436.10) rotate(-90)" x="0" y="0" font-size="10.6" text-anchor="end" fill="#231f20" textLength="24.20" lengthAdjust="spacingAndGlyphs">2008</text>
<text transform="translate(608.70,436.10) rotate(-90)" x="0" y="0" font-size="10.6" text-anchor="end" fill="#231f20" textLength="24.20" lengthAdjust="spacingAndGlyphs">2009</text>
<text transform="translate(623.05,436.10) rotate(-90)" x="0" y="0" font-size="10.6" text-anchor="end" fill="#231f20" textLength="21.90" lengthAdjust="spacingAndGlyphs">2010</text>
<text transform="translate(637.40,436.10) rotate(-90)" x="0" y="0" font-size="10.6" text-anchor="end" fill="#231f20" textLength="19.60" lengthAdjust="spacingAndGlyphs">2011</text>
<text transform="translate(651.75,436.10) rotate(-90)" x="0" y="0" font-size="10.6" text-anchor="end" fill="#231f20" textLength="21.90" lengthAdjust="spacingAndGlyphs">2012</text>
<text transform="translate(666.10,436.10) rotate(-90)" x="0" y="0" font-size="10.6" text-anchor="end" fill="#231f20" textLength="21.90" lengthAdjust="spacingAndGlyphs">2013</text>
<text transform="translate(680.45,436.10) rotate(-90)" x="0" y="0" font-size="10.6" text-anchor="end" fill="#231f20" textLength="21.90" lengthAdjust="spacingAndGlyphs">2014</text>
<text x="545.30" y="478.50" font-size="11.6" text-anchor="middle" fill="#231f20" textLength="23.00" lengthAdjust="spacingAndGlyphs" >Year</text>
<text transform="translate(370.0,342.2) rotate(-90)" x="0" y="0" font-size="11.6" text-anchor="middle" fill="#231f20" textLength="55.0" lengthAdjust="spacingAndGlyphs">Incidence</text>
<line x1="412.20" y1="379.70" x2="469.50" y2="379.70" stroke="#a8a8a8" stroke-width="1.4"/>
<text x="415.4" y="374.8" font-size="11.6" fill="#231f20">9.86 × 10<tspan font-size="8" dy="-4.6">−3</tspan></text>
<line x1="503.80" y1="261.40" x2="589.90" y2="261.40" stroke="#666666" stroke-width="1.1"/>
<text x="525.0" y="256.7" font-size="11.6" fill="#231f20" textLength="54.8" lengthAdjust="spacingAndGlyphs">3.77 × 10<tspan font-size="8" dy="-4.6">−3</tspan></text>
<line x1="604.70" y1="365.10" x2="678.20" y2="365.10" stroke="#b0b0b0" stroke-width="1.4"/>
<text x="639.50" y="359.30" font-size="11.6" text-anchor="middle" fill="#231f20" textLength="29.80" lengthAdjust="spacingAndGlyphs" >0.041</text>
<text transform="translate(349.8,259.5) scale(1.1,1)" x="0" y="0" font-size="17" font-weight="bold" fill="#000" stroke="#000" stroke-width="0.35">d</text>
</svg>
</body></html>
